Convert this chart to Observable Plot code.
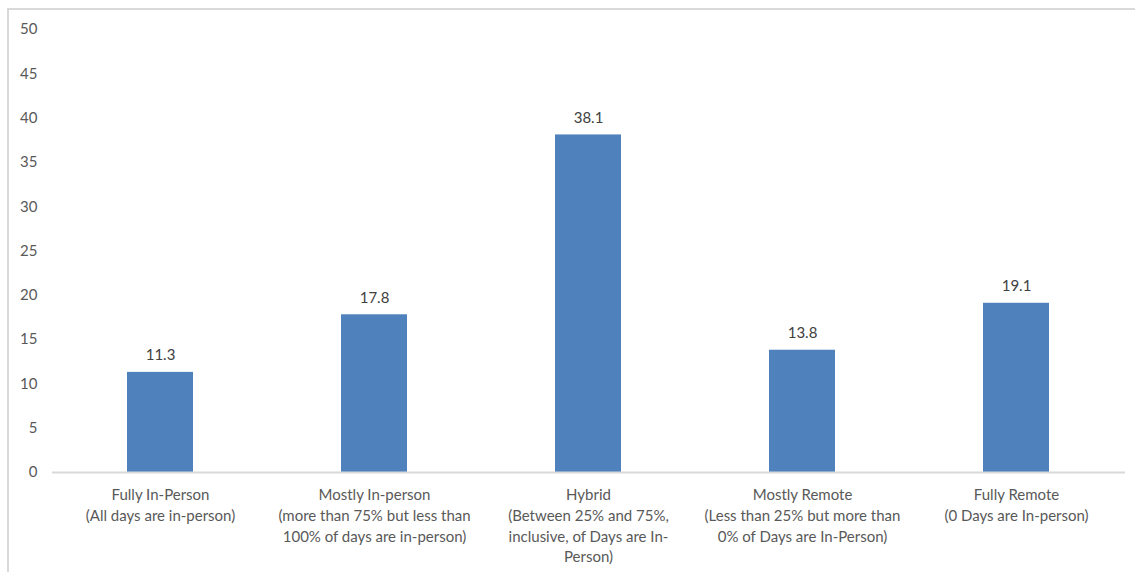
<!DOCTYPE html>
<html>
<head>
<meta charset="utf-8">
<script src="https://cdn.jsdelivr.net/npm/d3@7"></script>
<script src="https://cdn.jsdelivr.net/npm/@observablehq/plot@0.6"></script>
<style>
  html, body { margin: 0; padding: 0; background: #fff; }
  #wrap { position: relative; width: 1135px; height: 572px; overflow: hidden; }
  #edge { position: absolute; left: 7px; top: 8px; width: 1200px; height: 700px;
          border-left: 2px solid #d9d9d9; border-top: 2px solid #d9d9d9; pointer-events: none; }
  #chart { position: absolute; left: 0; top: 0; }
</style>
</head>
<body>
<div id="wrap"><div id="chart"></div><div id="edge"></div></div>
<script>
// Work arrangement categories and their shares
const categories = [
  "Fully In-Person\n(All days are in-person)",
  "Mostly In-person\n(more than 75% but less than\n100% of days are in-person)",
  "Hybrid\n(Between 25% and 75%,\ninclusive, of Days are In-\nPerson)",
  "Mostly Remote\n(Less than 25% but more than\n0% of Days are In-Person)",
  "Fully Remote\n(0 Days are In-person)"
];
const values = [11.3, 17.8, 38.1, 13.8, 19.1];
const yTicks = [0, 5, 10, 15, 20, 25, 30, 35, 40, 45, 50];

const data = categories.map((c, i) => ({category: c, value: values[i]}));

const font = "Lato, 'Open Sans', sans-serif";

const chart = Plot.plot({
  width: 1135,
  height: 572,
  marginLeft: 52,
  marginRight: 10,
  marginTop: 29,
  marginBottom: 100,
  style: {fontFamily: font, fontSize: "15px", background: "#fff"},
  x: {domain: categories, paddingInner: 0.69, paddingOuter: 0.345},
  y: {domain: [0, 50]},
  marks: [
    Plot.axisY({ticks: yTicks, tickSize: 0, tickPadding: 15, label: null,
                fill: "#595959", fontSize: 15}),
    Plot.axisX({tickSize: 0, tickPadding: 13, label: null, fill: "#595959",
                fontSize: 15, lineHeight: 1.38, lineAnchor: "top"}),
    Plot.barY(data, {x: "category", y: "value", fill: "#4f81bd"}),
    Plot.ruleY([0], {stroke: "#d9d9d9", strokeWidth: 2}),
    Plot.text(data, {x: "category", y: "value", text: d => d.value.toFixed(1),
                     dy: -17, fill: "#404040", fontSize: 15})
  ]
});
document.getElementById("chart").appendChild(chart);
</script>
</body>
</html>
